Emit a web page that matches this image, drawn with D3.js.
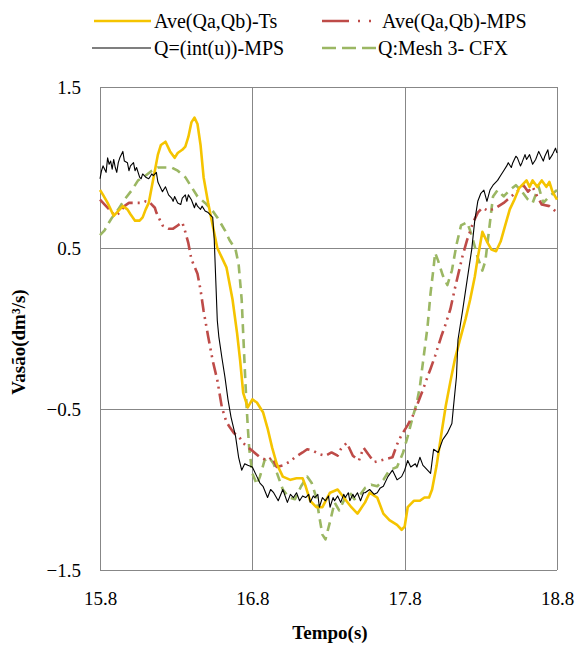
<!DOCTYPE html>
<html>
<head>
<meta charset="utf-8">
<script src="https://cdn.jsdelivr.net/npm/d3@7"></script>
<style>
  html, body { margin: 0; padding: 0; background: #fff; }
  svg { display: block; }
  svg text { fill: #000; }
</style>
</head>
<body>
<svg id="chart" width="577" height="655"></svg>
<script>
// Flow rate (dm³/s) over time (s) for four computations: [time, flow]
const aveTs = [
  [15.80,0.86],[15.82,0.83],[15.85,0.78],[15.87,0.74],[15.89,0.70],[15.91,0.72],[15.93,0.74],[15.95,0.76],
  [15.98,0.74],[16.00,0.71],[16.03,0.67],[16.06,0.67],[16.08,0.69],[16.10,0.74],[16.12,0.78],[16.14,0.88],
  [16.16,0.98],[16.18,1.08],[16.20,1.14],[16.23,1.16],[16.26,1.10],[16.29,1.06],[16.31,1.09],[16.34,1.11],
  [16.36,1.13],[16.38,1.19],[16.40,1.28],[16.42,1.31],[16.44,1.27],[16.46,1.14],[16.48,0.94],[16.51,0.78],
  [16.54,0.64],[16.57,0.50],[16.60,0.44],[16.63,0.38],[16.67,0.18],[16.70,-0.03],[16.72,-0.20],[16.74,-0.40],
  [16.77,-0.49],[16.80,-0.44],[16.83,-0.46],[16.87,-0.52],[16.90,-0.62],[16.93,-0.74],[16.96,-0.84],[17.00,-0.92],
  [17.05,-0.94],[17.09,-0.93],[17.13,-0.93],[17.15,-0.98],[17.18,-1.07],[17.22,-1.11],[17.26,-1.11],[17.31,-1.02],
  [17.36,-1.00],[17.40,-1.05],[17.45,-1.11],[17.49,-1.15],[17.54,-1.08],[17.57,-1.02],[17.62,-1.05],[17.66,-1.15],
  [17.70,-1.19],[17.75,-1.22],[17.78,-1.25],[17.80,-1.23],[17.82,-1.11],[17.86,-1.07],[17.90,-1.07],[17.93,-1.05],
  [17.96,-1.05],[17.98,-1.00],[18.01,-0.85],[18.04,-0.66],[18.07,-0.48],[18.10,-0.33],[18.13,-0.19],[18.16,-0.08],
  [18.20,0.06],[18.23,0.18],[18.26,0.32],[18.28,0.44],[18.31,0.60],[18.34,0.54],[18.37,0.49],[18.40,0.48],
  [18.43,0.54],[18.46,0.64],[18.49,0.74],[18.52,0.80],[18.55,0.87],[18.58,0.90],[18.60,0.92],[18.62,0.88],
  [18.64,0.92],[18.67,0.88],[18.70,0.92],[18.73,0.88],[18.75,0.91],[18.77,0.85],[18.80,0.80]
];

const aveMps = [
  [15.80,0.80],[15.82,0.78],[15.84,0.76],[15.86,0.74],[15.88,0.72],[15.90,0.70],[15.93,0.72],[15.96,0.76],
  [15.99,0.78],[16.03,0.78],[16.06,0.78],[16.08,0.78],[16.10,0.79],[16.12,0.79],[16.14,0.77],[16.16,0.75],
  [16.17,0.72],[16.21,0.64],[16.25,0.62],[16.28,0.62],[16.31,0.64],[16.34,0.66],[16.36,0.60],[16.38,0.53],
  [16.40,0.43],[16.44,0.34],[16.46,0.24],[16.48,0.11],[16.51,-0.05],[16.54,-0.20],[16.57,-0.32],[16.60,-0.49],
  [16.63,-0.58],[16.65,-0.61],[16.68,-0.65],[16.71,-0.67],[16.75,-0.72],[16.80,-0.76],[16.85,-0.80],[16.90,-0.82],
  [16.93,-0.80],[16.96,-0.86],[17.00,-0.85],[17.04,-0.83],[17.08,-0.80],[17.13,-0.77],[17.16,-0.75],[17.20,-0.76],
  [17.24,-0.78],[17.28,-0.79],[17.32,-0.77],[17.36,-0.79],[17.38,-0.75],[17.42,-0.71],[17.46,-0.79],[17.50,-0.82],
  [17.53,-0.74],[17.56,-0.78],[17.60,-0.83],[17.64,-0.82],[17.68,-0.81],[17.72,-0.80],[17.75,-0.72],[17.78,-0.66],
  [17.82,-0.60],[17.86,-0.53],[17.88,-0.48],[17.92,-0.38],[17.95,-0.30],[17.97,-0.25],[18.00,-0.17],[18.04,-0.05],
  [18.07,0.03],[18.10,0.12],[18.13,0.25],[18.16,0.37],[18.18,0.45],[18.21,0.55],[18.25,0.66],[18.28,0.72],
  [18.31,0.75],[18.35,0.73],[18.40,0.75],[18.45,0.78],[18.50,0.82],[18.55,0.86],[18.58,0.89],[18.61,0.85],
  [18.64,0.88],[18.67,0.82],[18.70,0.77],[18.75,0.76],[18.80,0.72]
];

const intU = [
  [15.80,0.93],[15.81,0.98],[15.82,1.01],[15.84,0.97],[15.85,1.06],[15.86,1.02],[15.87,1.04],[15.88,0.99],
  [15.89,1.05],[15.90,1.00],[15.91,0.97],[15.92,1.03],[15.93,1.06],[15.95,1.10],[15.96,1.04],[15.98,1.03],
  [15.99,0.98],[16.00,1.01],[16.02,1.03],[16.03,0.98],[16.04,1.00],[16.06,0.94],[16.07,0.93],[16.08,0.96],
  [16.10,0.94],[16.12,0.93],[16.14,0.96],[16.15,0.95],[16.17,0.97],[16.18,0.91],[16.20,0.87],[16.21,0.85],
  [16.23,0.88],[16.25,0.83],[16.27,0.81],[16.28,0.79],[16.29,0.82],[16.31,0.78],[16.33,0.77],[16.34,0.81],
  [16.36,0.83],[16.37,0.79],[16.38,0.83],[16.40,0.80],[16.42,0.75],[16.43,0.78],[16.44,0.76],[16.46,0.74],
  [16.47,0.76],[16.49,0.73],[16.51,0.72],[16.53,0.70],[16.54,0.69],[16.55,0.55],[16.56,0.30],[16.57,0.05],
  [16.58,-0.05],[16.60,-0.18],[16.62,-0.30],[16.64,-0.44],[16.66,-0.55],[16.69,-0.67],[16.71,-0.80],[16.73,-0.88],
  [16.75,-0.84],[16.77,-0.85],[16.80,-0.86],[16.83,-0.92],[16.85,-0.96],[16.87,-0.98],[16.90,-1.05],[16.92,-1.00],
  [16.94,-1.02],[16.97,-1.07],[17.00,-1.00],[17.03,-1.08],[17.05,-1.03],[17.07,-1.05],[17.09,-1.02],[17.11,-1.07],
  [17.13,-1.04],[17.15,-1.05],[17.17,-1.03],[17.18,-1.08],[17.20,-1.04],[17.21,-1.05],[17.23,-1.03],[17.24,-1.11],
  [17.26,-1.05],[17.28,-1.07],[17.30,-1.04],[17.31,-1.11],[17.33,-1.05],[17.34,-1.07],[17.36,-1.04],[17.38,-1.08],
  [17.40,-1.03],[17.41,-1.05],[17.43,-1.02],[17.44,-1.07],[17.46,-1.03],[17.47,-1.05],[17.49,-1.02],[17.51,-1.07],
  [17.53,-1.02],[17.54,-1.02],[17.57,-1.00],[17.60,-1.03],[17.62,-1.02],[17.64,-0.99],[17.66,-0.98],[17.69,-0.92],
  [17.72,-0.88],[17.75,-0.94],[17.78,-0.92],[17.80,-0.88],[17.82,-0.82],[17.84,-0.86],[17.87,-0.84],[17.88,-0.86],
  [17.90,-0.80],[17.92,-0.85],[17.93,-0.86],[17.95,-0.88],[17.97,-0.90],[17.99,-0.75],[18.02,-0.77],[18.05,-0.69],
  [18.08,-0.65],[18.11,-0.59],[18.12,-0.49],[18.14,-0.30],[18.15,-0.07],[18.18,0.11],[18.21,0.30],[18.24,0.49],
  [18.26,0.67],[18.28,0.79],[18.30,0.84],[18.32,0.86],[18.34,0.79],[18.36,0.86],[18.38,0.89],[18.41,0.92],
  [18.43,0.95],[18.45,0.98],[18.47,1.01],[18.48,1.03],[18.50,1.00],[18.51,1.03],[18.53,1.07],[18.54,1.06],
  [18.56,1.01],[18.57,1.03],[18.59,1.08],[18.60,1.05],[18.62,1.08],[18.64,1.02],[18.66,1.05],[18.68,1.10],
  [18.69,1.08],[18.71,1.04],[18.72,1.07],[18.74,1.11],[18.75,1.05],[18.77,1.08],[18.79,1.12],[18.80,1.09]
];

const cfxMesh3 = [
  [15.80,0.58],[15.83,0.61],[15.86,0.66],[15.88,0.69],[15.92,0.74],[15.96,0.80],[16.01,0.86],[16.05,0.92],
  [16.10,0.95],[16.14,0.98],[16.18,1.00],[16.23,1.00],[16.27,1.00],[16.31,0.98],[16.36,0.94],[16.40,0.88],
  [16.44,0.82],[16.49,0.78],[16.54,0.73],[16.57,0.69],[16.62,0.61],[16.65,0.55],[16.69,0.49],[16.71,0.40],
  [16.73,0.18],[16.74,-0.03],[16.75,-0.24],[16.76,-0.44],[16.77,-0.61],[16.78,-0.75],[16.80,-0.90],[16.83,-0.97],
  [16.85,-0.92],[16.88,-0.82],[16.91,-0.80],[16.94,-0.84],[16.97,-0.92],[17.00,-1.00],[17.04,-1.05],[17.08,-1.06],
  [17.12,-0.98],[17.16,-0.92],[17.19,-0.96],[17.22,-1.05],[17.24,-1.17],[17.26,-1.28],[17.28,-1.31],[17.31,-1.20],
  [17.34,-1.08],[17.37,-1.13],[17.41,-1.05],[17.44,-1.02],[17.47,-1.06],[17.51,-1.03],[17.54,-0.99],[17.58,-0.97],
  [17.62,-0.98],[17.66,-0.94],[17.70,-0.88],[17.75,-0.86],[17.79,-0.77],[17.82,-0.67],[17.85,-0.56],[17.88,-0.46],
  [17.90,-0.36],[17.92,-0.21],[17.95,0.01],[17.97,0.22],[17.99,0.38],[18.00,0.47],[18.02,0.42],[18.05,0.33],
  [18.08,0.27],[18.11,0.36],[18.14,0.52],[18.17,0.64],[18.21,0.66],[18.24,0.58],[18.28,0.44],[18.31,0.36],
  [18.33,0.42],[18.35,0.58],[18.38,0.82],[18.41,0.86],[18.45,0.82],[18.49,0.86],[18.53,0.89],[18.57,0.85],
  [18.61,0.80],[18.64,0.78],[18.68,0.88],[18.71,0.78],[18.75,0.82],[18.80,0.86]
];

const xTicks = [15.8, 16.8, 17.8, 18.8];
const yTicks = [-1.5, -0.5, 0.5, 1.5];
const seriesNames = ["Ave(Qa,Qb)-Ts", "Ave(Qa,Qb)-MPS", "Q=(int(u))-MPS", "Q:Mesh 3- CFX"];
const xTitle = "Tempo(s)";
const yTitle = "Vasão(dm³/s)";

// ---- layout ----
const plot = { left: 100, top: 87, right: 557, bottom: 570 };
const font = "'Liberation Serif', 'Times New Roman', Times, serif";
const svg = d3.select("#chart");

const x = d3.scaleLinear().domain([15.8, 18.8]).range([plot.left, plot.right]);
const y = d3.scaleLinear().domain([-1.5, 1.5]).range([plot.bottom, plot.top]);

// series styling
const styles = [
  { data: aveTs,    color: "#F5C400", width: 2.6, dash: null,               legendDash: null },
  { data: aveMps,   color: "#BE4B48", width: 2.6, dash: "13,5,2,5,2,5",     legendDash: "27,9,2,9,2,9" },
  { data: intU,     color: "#000000", width: 1.1, dash: null,               legendDash: null },
  { data: cfxMesh3, color: "#9BB763", width: 2.6, dash: "9,6",              legendDash: "14,6" }
];

// grid lines
const grid = svg.append("g").attr("stroke", "#878787").attr("stroke-width", 1);
grid.selectAll("line.v").data(xTicks).join("line")
  .attr("x1", d => Math.round(x(d)) + 0.5).attr("x2", d => Math.round(x(d)) + 0.5)
  .attr("y1", plot.top).attr("y2", plot.bottom);
grid.selectAll("line.h").data(yTicks).join("line")
  .attr("x1", plot.left).attr("x2", plot.right)
  .attr("y1", d => Math.round(y(d)) + 0.5).attr("y2", d => Math.round(y(d)) + 0.5);

// axes (labels only)
const xAxis = svg.append("g")
  .attr("transform", `translate(0,${plot.bottom})`)
  .call(d3.axisBottom(x).tickValues(xTicks).tickFormat(d3.format(".1f")).tickSize(0).tickPadding(22));
const yAxis = svg.append("g")
  .attr("transform", `translate(${plot.left},0)`)
  .call(d3.axisLeft(y).tickValues(yTicks).tickFormat(d3.format(".1f")).tickSize(0).tickPadding(19));
[xAxis, yAxis].forEach(a => {
  a.attr("font-family", font);
  a.select(".domain").remove();
  a.selectAll("text").attr("font-size", 19).attr("fill", "#000");
});

// lines
const line = d3.line().x(d => x(d[0])).y(d => y(d[1]));
const linesG = svg.append("g").attr("fill", "none").attr("stroke-linejoin", "round");
// draw order: CFX, MPS average, Ts average, then int(u) on top
[3, 1, 0, 2].forEach(i => {
  const s = styles[i];
  linesG.append("path")
    .datum(s.data)
    .attr("d", line)
    .attr("stroke", s.color)
    .attr("stroke-width", s.width)
    .attr("stroke-dasharray", s.dash);
});

// axis titles
svg.append("text")
  .attr("x", 330).attr("y", 639)
  .attr("text-anchor", "middle")
  .attr("font-family", font)
  .attr("font-size", 19).attr("font-weight", "bold")
  .text(xTitle);
svg.append("text")
  .attr("transform", "translate(25,342) rotate(-90)")
  .attr("text-anchor", "middle")
  .attr("font-family", font)
  .attr("font-size", 19).attr("font-weight", "bold")
  .text(yTitle);

// legend: two rows, two columns
const legendItems = [
  { name: seriesNames[0], s: styles[0], x0: 94,  x1: 151, tx: 154, y: 21 },
  { name: seriesNames[1], s: styles[1], x0: 322, x1: 376, tx: 382, y: 21 },
  { name: seriesNames[2], s: styles[2], x0: 92,  x1: 151, tx: 154, y: 48 },
  { name: seriesNames[3], s: styles[3], x0: 322, x1: 376, tx: 378, y: 48 }
];
const legend = svg.append("g");
legendItems.forEach(item => {
  legend.append("line")
    .attr("x1", item.x0).attr("x2", item.x1)
    .attr("y1", item.y).attr("y2", item.y)
    .attr("stroke", item.s.color)
    .attr("stroke-width", item.s.width)
    .attr("stroke-dasharray", item.s.legendDash);
  legend.append("text")
    .attr("x", item.tx).attr("y", item.y + 7)
    .attr("font-family", font)
    .attr("font-size", 20)
    .text(item.name);
});
</script>
</body>
</html>
